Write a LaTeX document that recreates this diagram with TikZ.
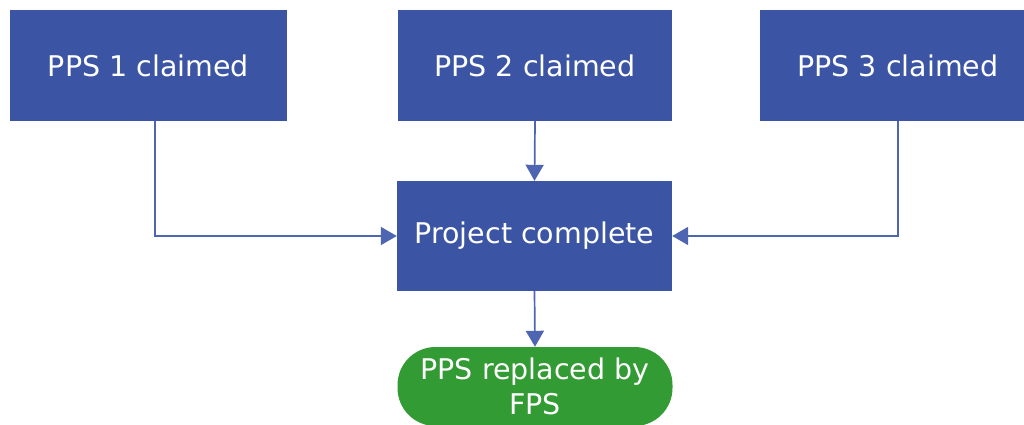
\documentclass[tikz,border=0pt]{standalone}
\usepackage{fontspec}
\setmainfont{DejaVu Sans}
\usetikzlibrary{positioning,arrows.meta}
\definecolor{boxblue}{RGB}{59,85,164}
\definecolor{lineblue}{RGB}{78,102,178}
\definecolor{boxgreen}{RGB}{51,155,51}

\tikzset{
    stepbox/.style={draw=none, fill=boxblue, text=white, minimum height=111pt,
        font=\fontsize{28.5}{35}\selectfont},
    endbox/.style={draw=none, fill=boxgreen, text=white, align=center,
        minimum width=275pt, minimum height=79pt, inner sep=0pt,
        rounded corners=38pt, font=\fontsize{28.5}{35}\selectfont},
    flow/.style={draw=lineblue, line width=1.7pt, -{Triangle[length=16pt,width=18pt]}}
}

\begin{document}
\begin{tikzpicture}[x=1pt, y=1pt]
    \useasboundingbox (0,0) rectangle (1024,-425);

    \node[stepbox, minimum width=277pt] (pps1) at (148.5,-65.5) {PPS 1 claimed};
    \node[stepbox, minimum width=274pt] (pps2) at (535,-65.5) {PPS 2 claimed};
    \node[stepbox, minimum width=276pt] (pps3) at (898,-65.5) {PPS 3 claimed};

    \node[stepbox, minimum width=275pt, minimum height=110pt] (complete) at (534.5,-236) {Project complete};

    \node[endbox] (replaced) at (535,-386.5) {PPS replaced by\\FPS};

    \coordinate (turn1) at ([xshift=6.5pt]pps1.south);
    \draw[flow] (turn1) |- (complete.west);
    \draw[flow] (pps3.south) |- (complete.east);
    \draw[flow] (pps2.south) -- (complete.north);
    \draw[flow] (complete.south) -- (replaced.north);
\end{tikzpicture}
\end{document}
